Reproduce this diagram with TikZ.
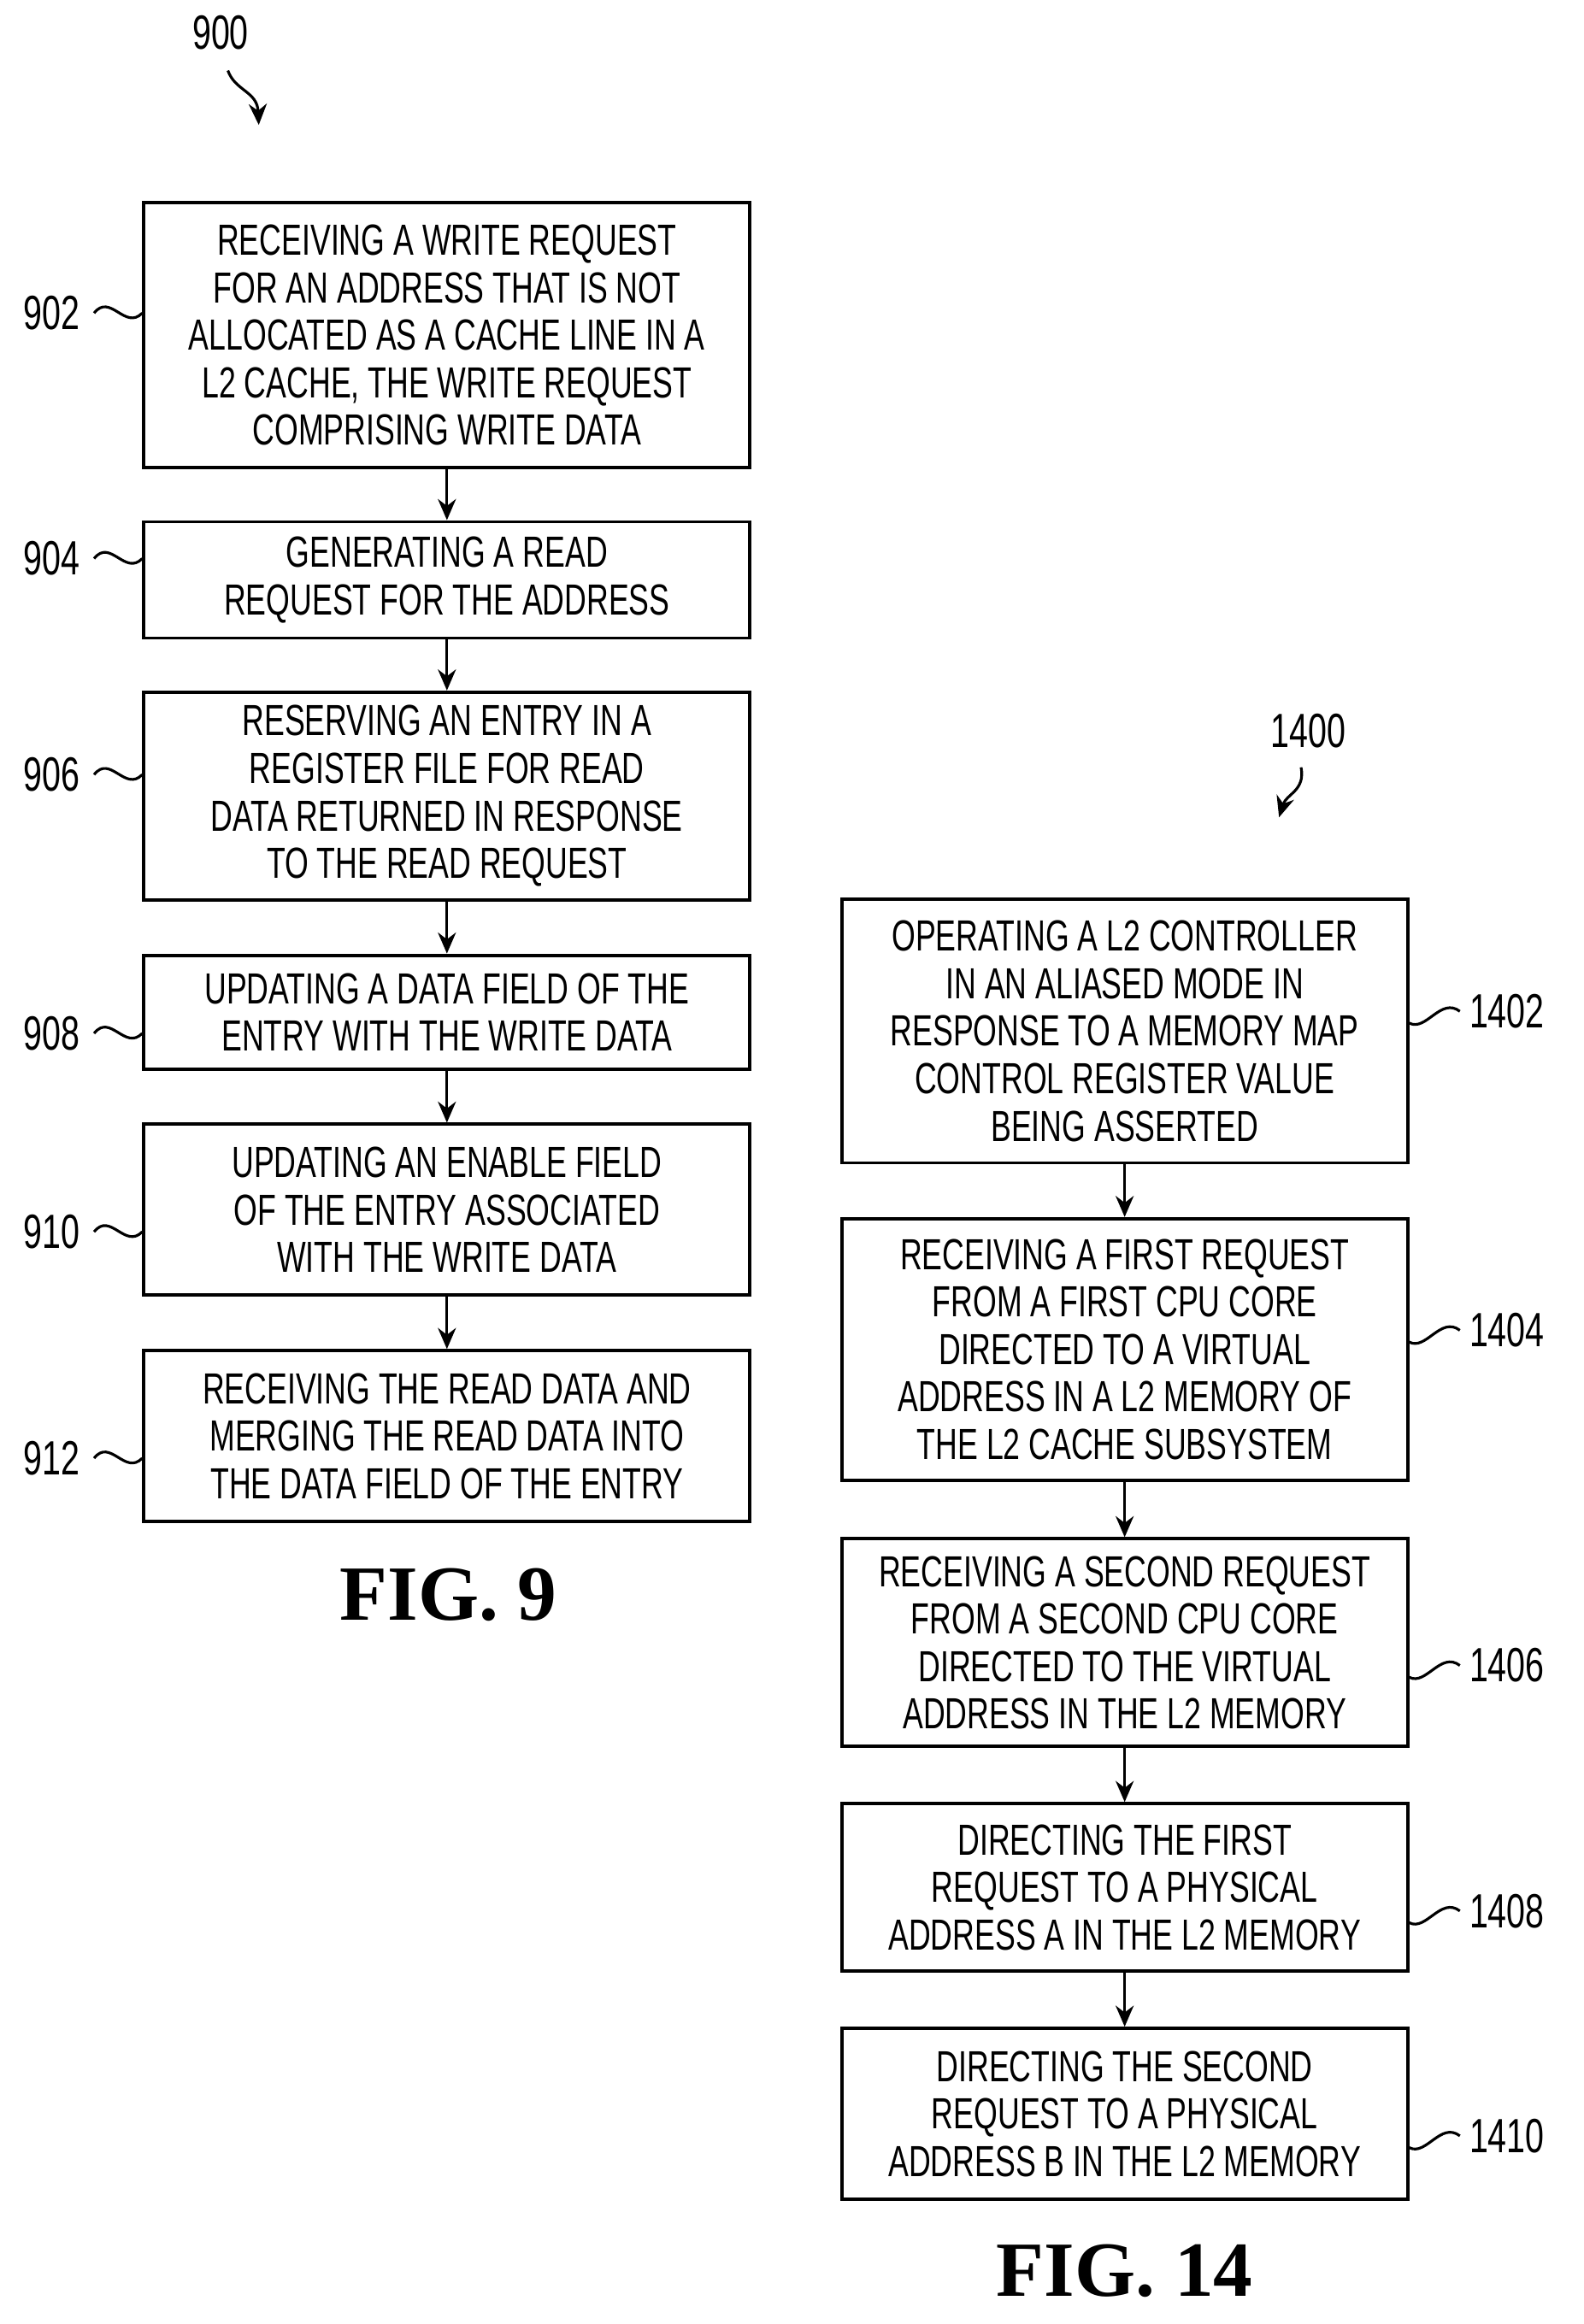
\documentclass[tikz,border=0pt]{standalone}
\usepackage{fontspec}
\setmainfont{Liberation Serif}
\newfontfamily\boxfont[FakeStretch=0.70]{Liberation Sans}
\usetikzlibrary{arrows.meta}
\tikzset{
  stepbox/.style={draw,line width=1.1pt,align=center,inner sep=0pt,
    font=\boxfont\fontsize{14.5}{15.8}\selectfont},
  num/.style={font=\boxfont\fontsize{16}{18}\selectfont},
  lead/.style={line width=0.9pt},
  flow/.style={line width=0.9pt,-{Stealth[length=7pt,width=6pt]}},
  fig/.style={font=\fontsize{26}{30}\selectfont\bfseries}
}
\begin{document}
\begin{tikzpicture}[x=0.0172cm,y=-0.0172cm]
  \useasboundingbox (0,0) rectangle (1077,1581);

  % FIG. 9
  \node[num] (n900) at (150,22) {900};
  \draw[flow] (155,48) .. controls (160,62) and (175,62) .. (176,85);
  \node[stepbox,minimum width=7.09cm,minimum height=3.10cm] (b902) at (304,228)
    {RECEIVING A WRITE REQUEST\\FOR AN ADDRESS THAT IS NOT\\ALLOCATED AS A CACHE LINE IN A\\L2 CACHE, THE WRITE REQUEST\\COMPRISING WRITE DATA};
  \node[stepbox,minimum width=7.09cm,minimum height=1.36cm] (b904) at (304,394.5)
    {GENERATING A READ\\REQUEST FOR THE ADDRESS};
  \node[stepbox,minimum width=7.09cm,minimum height=2.43cm] (b906) at (304,541.5)
    {RESERVING AN ENTRY IN A\\REGISTER FILE FOR READ\\DATA RETURNED IN RESPONSE\\TO THE READ REQUEST};
  \node[stepbox,minimum width=7.09cm,minimum height=1.33cm] (b908) at (304,688.5)
    {UPDATING A DATA FIELD OF THE\\ENTRY WITH THE WRITE DATA};
  \node[stepbox,minimum width=7.09cm,minimum height=2.0cm] (b910) at (304,823)
    {UPDATING AN ENABLE FIELD\\OF THE ENTRY ASSOCIATED\\WITH THE WRITE DATA};
  \node[stepbox,minimum width=7.09cm,minimum height=2.0cm] (b912) at (304,977)
    {RECEIVING THE READ DATA AND\\MERGING THE READ DATA INTO\\THE DATA FIELD OF THE ENTRY};
  \foreach \a/\b in {902/904,904/906,906/908,908/910,910/912}
    \draw[flow] (b\a.south) -- (b\b.north);
  \foreach \n/\y in {902/213,904/380,906/527,908/703,910/838,912/992} {
    \node[num] (l\n) at (35,\y) {\n};
    \draw[lead] (64,\y) .. controls (75,\y-14) and (85,\y+12) .. (b\n.west |- 0,\y);
  }
  \node[fig] (f9) at (305,1085) {FIG. 9};

  % FIG. 14
  \node[num] (n1400) at (890,497) {1400};
  \draw[flow] (885,522) .. controls (888,538) and (875,540) .. (870,556);
  \node[stepbox,minimum width=6.62cm,minimum height=3.08cm] (b1402) at (765,701.5)
    {OPERATING A L2 CONTROLLER\\IN AN ALIASED MODE IN\\RESPONSE TO A MEMORY MAP\\CONTROL REGISTER VALUE\\BEING ASSERTED};
  \node[stepbox,minimum width=6.62cm,minimum height=3.06cm] (b1404) at (765,918)
    {RECEIVING A FIRST REQUEST\\FROM A FIRST CPU CORE\\DIRECTED TO A VIRTUAL\\ADDRESS IN A L2 MEMORY OF\\THE L2 CACHE SUBSYSTEM};
  \node[stepbox,minimum width=6.62cm,minimum height=2.43cm] (b1406) at (765,1117.5)
    {RECEIVING A SECOND REQUEST\\FROM A SECOND CPU CORE\\DIRECTED TO THE VIRTUAL\\ADDRESS IN THE L2 MEMORY};
  \node[stepbox,minimum width=6.62cm,minimum height=1.96cm] (b1408) at (765,1284)
    {DIRECTING THE FIRST\\REQUEST TO A PHYSICAL\\ADDRESS A IN THE L2 MEMORY};
  \node[stepbox,minimum width=6.62cm,minimum height=2.0cm] (b1410) at (765,1438)
    {DIRECTING THE SECOND\\REQUEST TO A PHYSICAL\\ADDRESS B IN THE L2 MEMORY};
  \foreach \a/\b in {1402/1404,1404/1406,1406/1408,1408/1410}
    \draw[flow] (b\a.south) -- (b\b.north);
  \foreach \n/\y in {1402/688,1404/905,1406/1133,1408/1300,1410/1453} {
    \node[num] (l\n) at (1025,\y) {\n};
    \draw[lead] (b\n.east |- 0,\y+8) .. controls (970,\y+14) and (980,\y-10) .. (993,\y);
  }
  \node[fig] (f14) at (765,1545) {FIG. 14};
\end{tikzpicture}
\end{document}
